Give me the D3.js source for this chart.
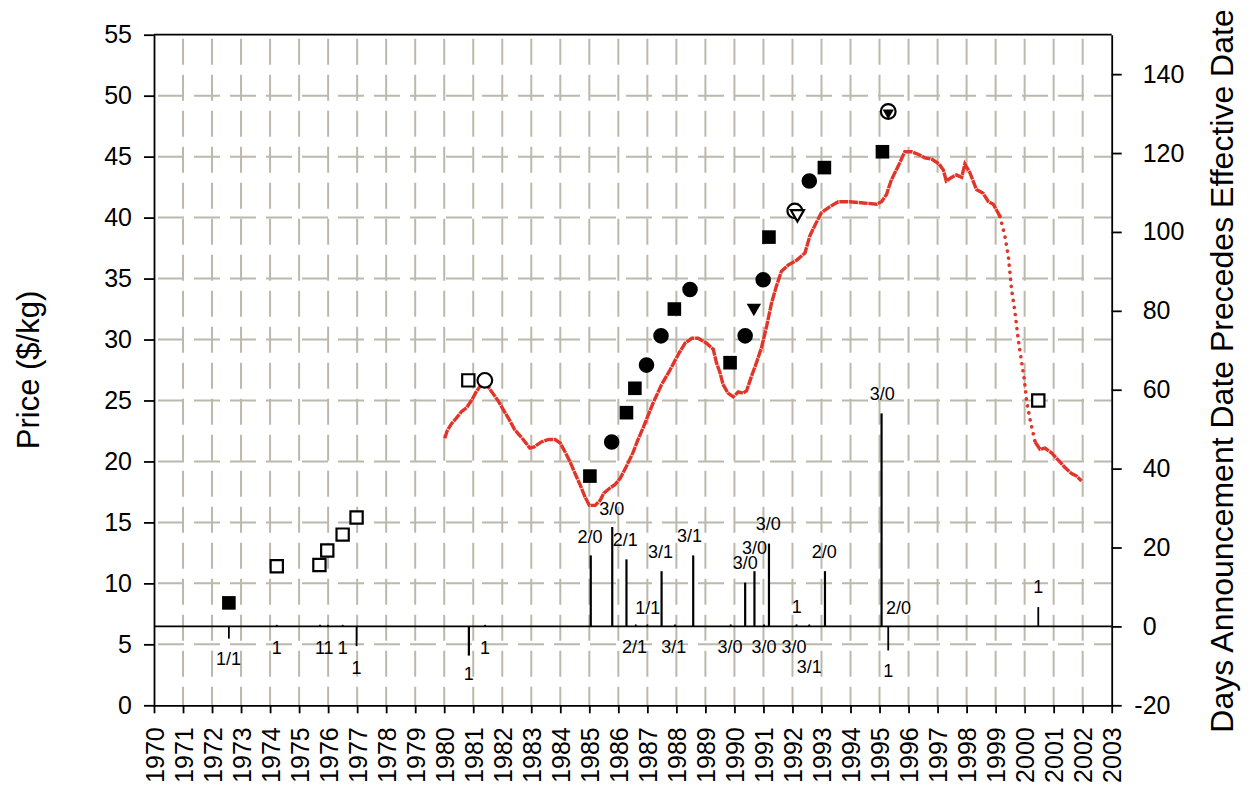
<!DOCTYPE html>
<html lang="en">
<head>
<meta charset="UTF-8">
<title>Price and announcement lead days</title>
<style>
  body { margin: 0; background: #fff; }
  svg text { font-family: "Liberation Sans", Arial, sans-serif; fill: #000; }
</style>
</head>
<body>
<script src="https://d3js.org/d3.v7.min.js"></script>
<script>
// ---- data ----
const years = d3.range(1970, 2004);
const priceTicks = d3.range(0, 56, 5);
const dayTicks = d3.range(-20, 141, 20);

// red price series
const lineYears = [1980.02, 1980.1, 1980.25, 1980.4, 1980.6, 1980.77, 1980.94, 1981.1, 1981.28, 1981.42,
  1981.55, 1981.7, 1981.85, 1982.0, 1982.2, 1982.43, 1982.72, 1982.95, 1983.1, 1983.35,
  1983.6, 1983.82, 1984.0, 1984.16, 1984.33, 1984.51, 1984.68, 1984.85, 1985.0, 1985.2,
  1985.37, 1985.5, 1985.7, 1985.88, 1986.06, 1986.28, 1986.5, 1986.68, 1986.86, 1987.03,
  1987.2, 1987.49, 1987.78, 1988.07, 1988.3, 1988.53, 1988.75, 1989.04, 1989.27, 1989.38,
  1989.5, 1989.61, 1989.78, 1989.96, 1990.13, 1990.3, 1990.42, 1990.59, 1990.76, 1990.94,
  1991.11, 1991.28, 1991.45, 1991.62, 1991.85, 1992.14, 1992.43, 1992.6, 1992.78, 1993.0,
  1993.29, 1993.58, 1993.98, 1994.44, 1994.9, 1995.07, 1995.24, 1995.41, 1995.64, 1995.87,
  1996.1, 1996.33, 1996.56, 1996.8, 1997.05, 1997.2, 1997.3, 1997.48, 1997.65, 1997.83,
  1997.94, 1998.11, 1998.34, 1998.57, 1998.75, 1998.92, 1999.15, 1999.32, 1999.44, 1999.55,
  1999.67, 1999.78, 1999.9, 1999.99, 2000.07, 2000.19, 2000.36, 2000.53, 2000.7, 2000.93,
  2001.16, 2001.39, 2001.62, 2001.79, 2001.96];
const linePrices = [21.9, 22.5, 23.1, 23.5, 24.1, 24.4, 25.0, 25.7, 26.3, 26.4,
  26.0, 25.5, 25.0, 24.4, 23.6, 22.6, 21.8, 21.1, 21.2, 21.6,
  21.8, 21.8, 21.5, 20.8, 20.0, 19.0, 18.1, 17.1, 16.4, 16.4,
  16.8, 17.4, 17.8, 18.1, 18.6, 19.6, 20.7, 21.8, 22.8, 23.8,
  24.8, 26.3, 27.5, 28.8, 29.7, 30.1, 30.1, 29.7, 29.2, 28.1,
  27.3, 26.3, 25.6, 25.3, 25.7, 25.6, 25.8, 27.0, 28.1, 29.4,
  31.1, 33.0, 34.4, 35.6, 36.1, 36.5, 37.1, 38.5, 39.4, 40.4,
  40.9, 41.3, 41.3, 41.2, 41.1, 41.3, 41.9, 43.1, 44.2, 45.4,
  45.4, 45.2, 44.9, 44.8, 44.4, 43.9, 43.0, 43.3, 43.5, 43.3,
  44.4, 43.7, 42.3, 42.0, 41.3, 41.1, 40.1, 38.5, 36.8, 34.1,
  32.2, 30.0, 28.1, 26.7, 24.9, 23.4, 21.6, 21.0, 21.1, 20.7,
  20.1, 19.5, 19.0, 18.8, 18.4];

// price markers
const markerYears = [1972.58, 1974.23, 1975.7, 1975.97, 1976.5, 1976.98, 1980.83, 1981.4,
  1985.02, 1985.77, 1986.28, 1986.57, 1986.97, 1987.47, 1987.93, 1988.47, 1989.85, 1990.37,
  1990.67, 1990.99, 1991.19, 1992.08, 1992.17, 1992.58, 1993.1, 1995.1, 1995.3, 1995.3, 2000.47];
const markerPrices = [8.4, 11.4, 11.5, 12.7, 14.0, 15.4, 26.65, 26.65,
  18.8, 21.6, 24.0, 26.0, 27.9, 30.3, 32.5, 34.1, 28.1, 30.3,
  32.6, 34.9, 38.4, 40.55, 40.3, 43.0, 44.1, 45.4, 48.7, 48.6, 25.0];
const markerShapes = ['square', 'openSquare', 'openSquare', 'openSquare', 'openSquare', 'openSquare', 'openSquare', 'openCircle',
  'square', 'circle', 'square', 'square', 'circle', 'circle', 'square', 'circle', 'square', 'circle',
  'triangle', 'circle', 'square', 'openCircle', 'openTriangle', 'circle', 'square', 'square', 'openCircle', 'smallTriangle', 'openSquare'];

// days announcement precedes effective date
const barYears = [1972.58, 1974.23, 1975.72, 1976.0, 1976.5, 1976.98, 1980.85, 1981.41,
  1985.05, 1985.79, 1986.28, 1986.6, 1987.0, 1987.49, 1987.95, 1988.58, 1989.87, 1990.37,
  1990.69, 1991.02, 1991.19, 1992.14, 1992.58, 1993.12, 1995.07, 1995.3, 2000.47];
const barDays = [-3.1, 0.4, 0.4, 0.4, 0.4, -5, -7.4, 0.4,
  18.0, 25.2, 17.0, 0.5, 0.5, 14.0, 0.5, 18.0, 0.5, 11.1,
  14.0, 0.5, 21.0, 0.5, 0.5, 14.0, 54.0, -6.1, 4.9];

// bar annotations (year, days, text)
const noteYears = [1972.57, 1974.23, 1975.72, 1976.01, 1976.5, 1976.98, 1980.85, 1981.41,
  1985.02, 1985.77, 1986.24, 1986.56, 1987.01, 1987.45, 1987.91, 1988.45, 1989.85, 1990.37,
  1990.69, 1991.02, 1991.17, 1992.05, 1992.15, 1992.58, 1993.1, 1995.09, 1995.3, 1995.65, 2000.47];
const noteDays = [-8.2, -5.3, -5.3, -5.3, -5.3, -10.3, -12.0, -5.3,
  22.7, 29.9, 22.0, -5.1, 4.9, 18.9, -5.1, 23.1, -5.1, 16.1,
  20.1, -5.1, 26.2, -5.1, 5.1, -10.2, 19.0, 59.1, -11.2, 4.9, 10.0];
const noteTexts = ['1/1', '1', '1', '1', '1', '1', '1', '1',
  '2/0', '3/0', '2/1', '2/1', '1/1', '3/1', '3/1', '3/1', '3/0', '3/0',
  '3/0', '3/0', '3/0', '3/0', '1', '3/1', '2/0', '3/0', '1', '2/0', '1'];

// ---- drawing ----
const W = 1250, H = 793;
const plot = { left: 154, right: 1111.7, top: 34.7, bottom: 705.3 };
const RED = '#e2352a';
const GRID = '#bcb8ab';

const svg = d3.select('body').append('svg').attr('width', W).attr('height', H);

const x = d3.scaleLinear().domain([1970, 2003]).range([plot.left, plot.right]);
const yL = d3.scaleLinear().domain([0, 55]).range([plot.bottom, plot.top]);
const yR = d3.scaleLinear().domain([-20, 150]).range([plot.bottom, plot.top]);

// grid
const grid = svg.append('g').attr('stroke', GRID).attr('stroke-width', 2)
  .attr('stroke-dasharray', '26,10');
grid.selectAll('line.v').data(years.slice(1, -1)).enter().append('line')
  .attr('x1', d => x(d)).attr('x2', d => x(d))
  .attr('y1', plot.top + 4).attr('y2', plot.bottom);
grid.selectAll('line.h').data(priceTicks.slice(1, -1)).enter().append('line')
  .attr('x1', plot.left + 4).attr('x2', plot.right)
  .attr('y1', d => yL(d)).attr('y2', d => yL(d));

// frame top + zero-days line
svg.append('line').attr('x1', plot.left).attr('x2', plot.right)
  .attr('y1', plot.top).attr('y2', plot.top).attr('stroke', '#000').attr('stroke-width', 1.8);
svg.append('line').attr('x1', plot.left).attr('x2', plot.right)
  .attr('y1', yR(0)).attr('y2', yR(0)).attr('stroke', '#000').attr('stroke-width', 1.8);

// day bars
svg.append('g').selectAll('line').data(barYears).enter().append('line')
  .attr('x1', d => x(d)).attr('x2', d => x(d))
  .attr('y1', yR(0)).attr('y2', (d, i) => yR(barDays[i]))
  .attr('stroke', '#000').attr('stroke-width', (d, i) => Math.abs(barDays[i]) > 7 ? 2.2 : 1.8);

svg.append('g').selectAll('text').data(noteYears).enter().append('text')
  .attr('x', d => x(d)).attr('y', (d, i) => yR(noteDays[i]))
  .attr('dy', '0.36em').attr('text-anchor', 'middle')
  .style('font-size', '18px')
  .text((d, i) => noteTexts[i]);

// red price line: near-solid where prices move slowly, loose dots on the steep 1999-2000 drop
const pts = lineYears.map((d, i) => [d, linePrices[i]]);
const line = d3.line().x(d => x(d[0])).y(d => yL(d[1]));
const sparse = pts.filter(d => d[0] >= 1999.15 && d[0] <= 2000.36);
svg.append('path').datum(pts.filter(d => d[0] <= 1999.2)).attr('d', line)
  .attr('fill', 'none').attr('stroke', RED).attr('stroke-width', 3.4).attr('stroke-dasharray', '9,0.7');
svg.append('path').datum(sparse).attr('d', line)
  .attr('fill', 'none').attr('stroke', RED).attr('stroke-width', 3.6)
  .attr('stroke-linecap', 'round').attr('stroke-dasharray', '0.1,7');
svg.append('path').datum(pts.filter(d => d[0] >= 2000.36)).attr('d', line)
  .attr('fill', 'none').attr('stroke', RED).attr('stroke-width', 3.4).attr('stroke-dasharray', '9,0.7');

// markers
const symbolFor = {
  square: { type: d3.symbolSquare, size: 185, fill: '#000', stroke: 'none', rot: 0 },
  openSquare: { type: d3.symbolSquare, size: 150, fill: '#fff', stroke: '#000', rot: 0 },
  circle: { type: d3.symbolCircle, size: 190, fill: '#000', stroke: 'none', rot: 0 },
  openCircle: { type: d3.symbolCircle, size: 170, fill: '#fff', stroke: '#000', rot: 0 },
  triangle: { type: d3.symbolTriangle, size: 90, fill: '#000', stroke: 'none', rot: 180 },
  openTriangle: { type: d3.symbolTriangle, size: 75, fill: '#fff', stroke: '#000', rot: 180 },
  smallTriangle: { type: d3.symbolTriangle, size: 55, fill: '#000', stroke: 'none', rot: 180 }
};
svg.append('g').selectAll('path').data(markerYears).enter().append('path')
  .attr('d', (d, i) => d3.symbol().type(symbolFor[markerShapes[i]].type).size(symbolFor[markerShapes[i]].size)())
  .attr('transform', (d, i) => `translate(${x(d)},${yL(markerPrices[i])}) rotate(${symbolFor[markerShapes[i]].rot})`)
  .attr('fill', (d, i) => symbolFor[markerShapes[i]].fill)
  .attr('stroke', (d, i) => symbolFor[markerShapes[i]].stroke)
  .attr('stroke-width', 2.2);

// axes
const styleAxis = g => {
  g.selectAll('path.domain').attr('stroke', '#000').attr('stroke-width', 1.8);
  g.selectAll('.tick line').attr('stroke', '#000').attr('stroke-width', 1.8);
  g.selectAll('.tick text').style('font-size', '25px').attr('fill', '#000')
    .style('font-family', '"Liberation Sans", Arial, sans-serif');
};

svg.append('g').attr('transform', `translate(${plot.left},0)`)
  .call(d3.axisLeft(yL).tickValues(priceTicks).tickSize(10).tickSizeOuter(0).tickPadding(12))
  .call(styleAxis);

svg.append('g').attr('transform', `translate(${plot.right},0)`)
  .call(d3.axisRight(yR).tickValues(dayTicks).tickSize(10).tickSizeOuter(0).tickPadding(21)
    .tickFormat(d => String(d)))
  .call(styleAxis)
  .call(g => g.selectAll('.tick text').attr('dx', d => d < 0 ? '-0.333em' : 0));

svg.append('g').attr('transform', `translate(0,${plot.bottom})`)
  .call(d3.axisBottom(x).tickValues(years).tickSize(8).tickSizeOuter(0).tickFormat(d3.format('d')))
  .call(styleAxis)
  .call(g => g.selectAll('.tick text')
    .attr('transform', 'rotate(-90)')
    .attr('x', -22).attr('y', 0).attr('dy', '0.36em')
    .attr('text-anchor', 'end'));

// axis titles
svg.append('text')
  .attr('transform', `translate(28,${(plot.top + plot.bottom) / 2}) rotate(-90)`)
  .attr('dy', '0.35em').attr('text-anchor', 'middle')
  .style('font-size', '31px')
  .text('Price ($/kg)');

svg.append('text')
  .attr('transform', `translate(1222,${(plot.top + plot.bottom) / 2 + 1}) rotate(-90)`)
  .attr('dy', '0.35em').attr('text-anchor', 'middle')
  .style('font-size', '32px')
  .text('Days Announcement Date Precedes Effective Date');
</script>
</body>
</html>
